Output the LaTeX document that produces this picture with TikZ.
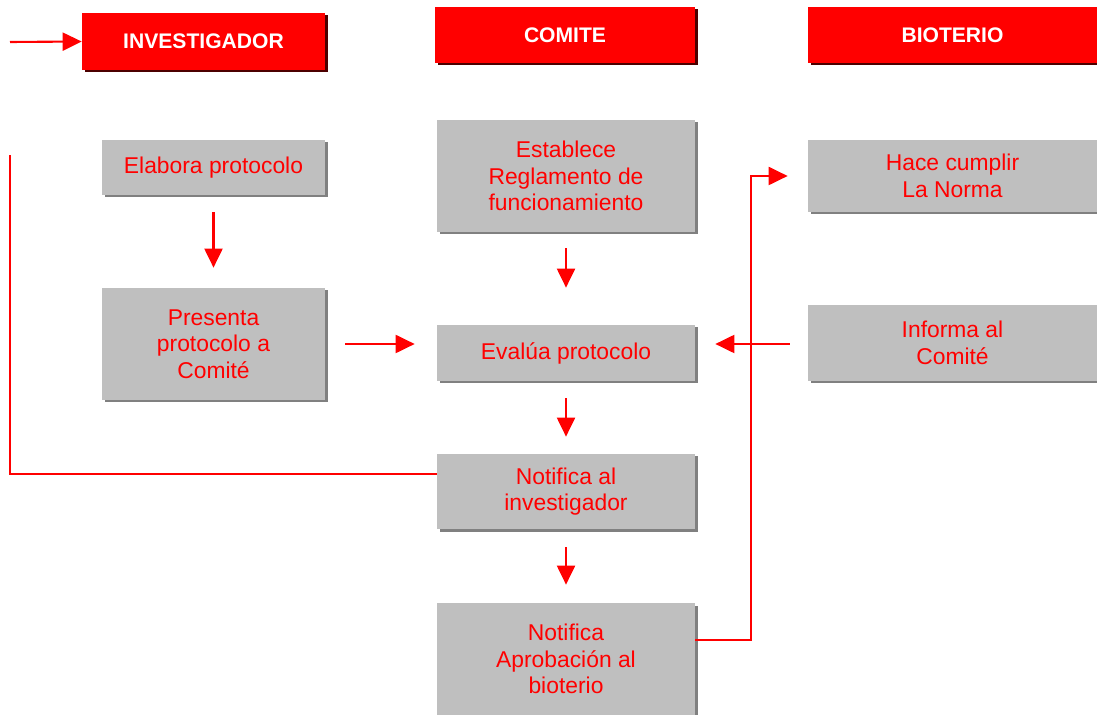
\documentclass[tikz,border=0pt]{standalone}
\usepackage{fontspec}
\setmainfont{Liberation Sans}
\usetikzlibrary{shapes,arrows.meta,positioning,calc,shadows}

\begin{document}
\begin{tikzpicture}[
    head/.style={rectangle, fill=red, text=white, font=\fontsize{12}{14}\selectfont\bfseries, align=center, drop shadow={shadow xshift=0.05cm, shadow yshift=-0.05cm, fill=black!70!red, opacity=1}},
    box/.style={rectangle, fill=black!25, text=red, font=\fontsize{13}{15.2}\selectfont, align=center, drop shadow={shadow xshift=0.05cm, shadow yshift=-0.05cm, fill=black!50, opacity=1}},
    arrow/.style={-{Triangle[length=0.38cm, width=0.36cm]}, red, line width=1.2pt}
]
\useasboundingbox (0,0) rectangle (21.94,-14.3);

% encabezados
\node[head, minimum width=4.86cm, minimum height=1.14cm] (inv) at (4.07,-0.83) {INVESTIGADOR};
\node[head, minimum width=5.2cm, minimum height=1.12cm] (com) at (11.3,-0.70) {COMITE};
\node[head, minimum width=5.78cm, minimum height=1.12cm] (bio) at (19.05,-0.70) {BIOTERIO};

% investigador
\node[box, minimum width=4.46cm, minimum height=1.1cm] (elab) at (4.27,-3.35) {Elabora protocolo};
\node[box, minimum width=4.46cm, minimum height=2.24cm] (pres) at (4.27,-6.88) {Presenta\\protocolo a\\Comité};

% comite
\node[box, minimum width=5.16cm, minimum height=2.24cm] (est) at (11.32,-3.52) {Establece\\Reglamento de\\funcionamiento};
\node[box, minimum width=5.16cm, minimum height=1.12cm] (eval) at (11.32,-7.06) {Evalúa protocolo};
\node[box, minimum width=5.16cm, minimum height=1.5cm] (notinv) at (11.32,-9.83) {Notifica al\\investigador};
\node[box, minimum width=5.16cm, minimum height=2.24cm] (notapr) at (11.32,-13.18) {Notifica\\Aprobación al\\bioterio};

% bioterio
\node[box, minimum width=5.78cm, minimum height=1.44cm] (hace) at (19.05,-3.52) {Hace cumplir\\La Norma};
\node[box, minimum width=5.78cm, minimum height=1.52cm] (info) at (19.05,-6.86) {Informa al\\Comité};

\coordinate (start) at (0.2,-0.84);
\coordinate (loop) at (0.2,-3.1);

\draw[arrow] (start) -- (inv.west);
\draw[arrow, shorten <=0.34cm, shorten >=0.4cm] (elab) -- (pres);
\draw[arrow, shorten <=0.4cm, shorten >=0.44cm] (pres.east) -- (pres.east -| eval.west);
\draw[arrow, shorten <=0.32cm, shorten >=0.74cm] (est) -- (eval);
\draw[arrow, shorten <=0.34cm, shorten >=0.34cm] (eval) -- (notinv);
\draw[arrow, shorten <=0.36cm, shorten >=0.36cm] (notinv) -- (notapr);
\draw[arrow, shorten <=0.36cm, shorten >=0.4cm] (info.west |- pres.east) -- (eval.east |- pres.east);
\draw[arrow, shorten >=0.4cm] ([yshift=0.38cm]notapr.east) -- ++(1.12,0) |- (hace.west);
\draw[red, line width=1.2pt] ([yshift=0.35cm]notinv.west) -| (loop);

\end{tikzpicture}
\end{document}
